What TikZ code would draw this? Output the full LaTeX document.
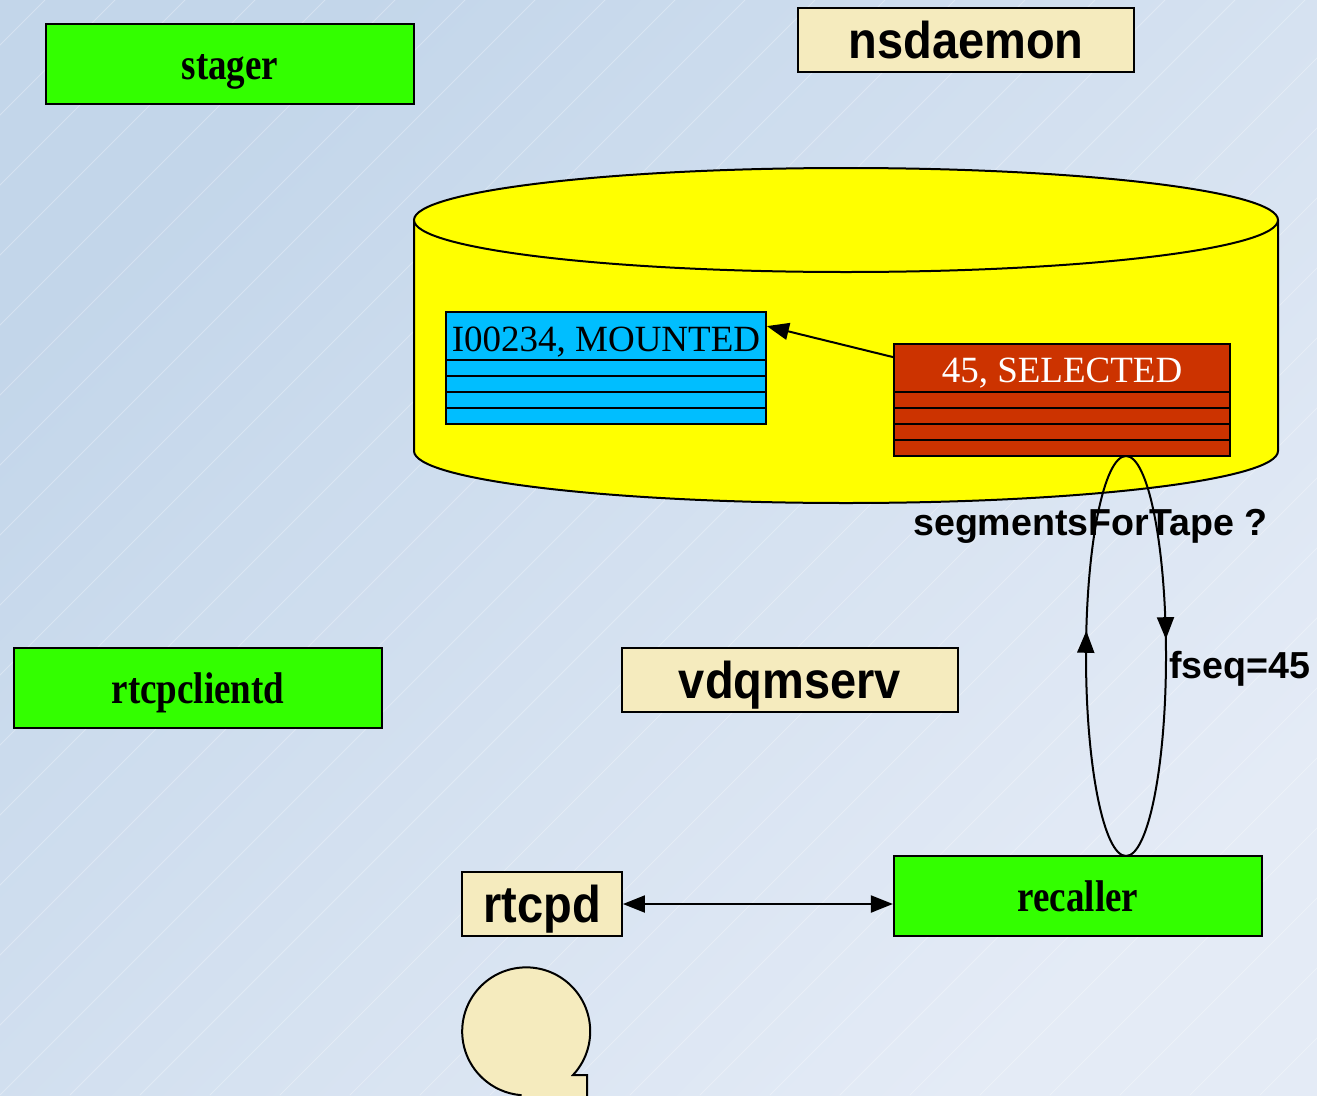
\documentclass[tikz,border=0pt]{standalone}
\usepackage{fontspec}
\setmainfont{Liberation Serif}
\newfontfamily\labsans{Liberation Sans}
\usetikzlibrary{arrows.meta,decorations.markings,calc}

\definecolor{bgA}{RGB}{195,214,234}
\definecolor{bgB}{RGB}{228,235,246}
\definecolor{procgreen}{RGB}{51,255,0}
\definecolor{daemoncream}{RGB}{245,235,190}
\definecolor{dbyellow}{RGB}{255,255,0}
\definecolor{tapeblue}{RGB}{0,190,255}
\definecolor{segred}{RGB}{204,51,0}

\newcommand{\serifbig}[1]{\scalebox{1}[1.2]{\fontsize{37}{40}\selectfont\bfseries #1}}
\newcommand{\sansbig}[1]{\scalebox{1}[1.1]{\labsans\fontsize{47}{50}\selectfont\bfseries #1}}

\tikzset{
  flowtip/.tip={Triangle[length=22pt,width=17pt]},
  procbox/.style={draw=black, line width=2.2pt, fill=procgreen, inner sep=0pt,
    minimum width=368pt, minimum height=80pt, text height=30pt, text depth=0pt},
  daemonbox/.style={draw=black, line width=1.8pt, fill=daemoncream, inner sep=0pt,
    minimum height=64pt, text height=37pt, text depth=0pt},
  tablebox/.style={draw=black, line width=1.8pt, inner sep=0pt, minimum height=112pt},
  rowline/.style={line width=1.8pt},
  flow/.style={line width=2pt},
  looplabel/.style={font=\labsans\fontsize{37.6}{40}\selectfont\bfseries, inner sep=0pt},
  rowtext/.style={font=\fontsize{37}{40}\selectfont, inner sep=0pt},
}

\begin{document}
\begin{tikzpicture}[x=1pt,y=-1pt]
  \useasboundingbox (0,0) rectangle (1317,1095);
  \clip (0,0) rectangle (1317,1095);

  % background
  \shade[top color=bgA, bottom color=bgB, shading angle=45] (0,0) rectangle (1317,1095);
  \foreach \s in {-1120,-1050,...,1330}
    \draw[white, opacity=0.3, line width=0.8pt] (\s,1095) -- ++(1095,-1095);

  % database cylinder
  \path[fill=dbyellow, draw=black, line width=2pt]
    (414,220) -- (414,451)
    arc[start angle=180, end angle=0, x radius=432, y radius=52]
    -- (1278,220);
  \draw[fill=dbyellow, line width=2pt] (846,220) ellipse[x radius=432, y radius=52];

  % tape table
  \node[tablebox, fill=tapeblue, minimum width=320pt] (mnt) at (606,368) {};
  \foreach \y in {360,376,392,408}
    \draw[rowline] (446,\y) -- (766,\y);
  \node[rowtext, anchor=base] (mnttxt) at (606,351) {I00234, MOUNTED};

  % segment table
  \node[tablebox, fill=segred, minimum width=336pt] (sel) at (1062,400) {};
  \foreach \y in {392,408,424,440}
    \draw[rowline] (894,\y) -- (1230,\y);
  \node[rowtext, anchor=base, text=white] (seltxt) at (1062,382) {45, SELECTED};

  % processes
  \node[procbox] (stager) at (230,64) {\serifbig{stager}};
  \node[procbox] (rtcpclientd) at (198,688) {\serifbig{rtcpclientd}};
  \node[procbox] (recaller) at (1078,896) {\serifbig{recaller}};
  \node[daemonbox, minimum width=336pt] (nsdaemon) at (966,40) {\sansbig{nsdaemon}};
  \node[daemonbox, minimum width=336pt] (vdqmserv) at (790,680) {\sansbig{vdqmserv}};
  \node[daemonbox, minimum width=160pt] (rtcpd) at (542,904) {\sansbig{rtcpd}};

  % segment -> tape link
  \coordinate (selout) at ($(sel.north west)+(0,14)$);
  \coordinate (mntin) at ($(mnt.north east)+(0,15)$);
  \draw[flow, -{flowtip}] (selout) -- (mntin);

  % rtcpd <-> recaller
  \draw[flow, {flowtip}-{flowtip}] (rtcpd.east) -- (rtcpd.east -| recaller.west);

  % query loop between recaller and segment table
  \coordinate (loopbot) at (1126,856);
  \coordinate (looptop) at (1126,456);
  \draw[flow, postaction={decorate},
        decoration={markings, mark=at position 0.56 with {\arrow{flowtip}}}]
    (loopbot) arc[start angle=90, end angle=270, x radius=40, y radius=200];
  \draw[flow, postaction={decorate},
        decoration={markings, mark=at position 0.46 with {\arrow{flowtip}}}]
    (looptop) arc[start angle=-90, end angle=90, x radius=40, y radius=200];
  \node[looplabel, anchor=base west] (qlabel) at (913,535) {segmentsForTape ?};
  \node[looplabel, anchor=base west] (rlabel) at (1169,678) {fseq=45};

  % drive callout
  \path[fill=daemoncream, draw=black, line width=2pt]
    (573,1075) arc[start angle=43, end angle=-265, radius=64]
    -- (520,1120) -- (587,1120) -- (587,1075) -- cycle;
\end{tikzpicture}
\end{document}
